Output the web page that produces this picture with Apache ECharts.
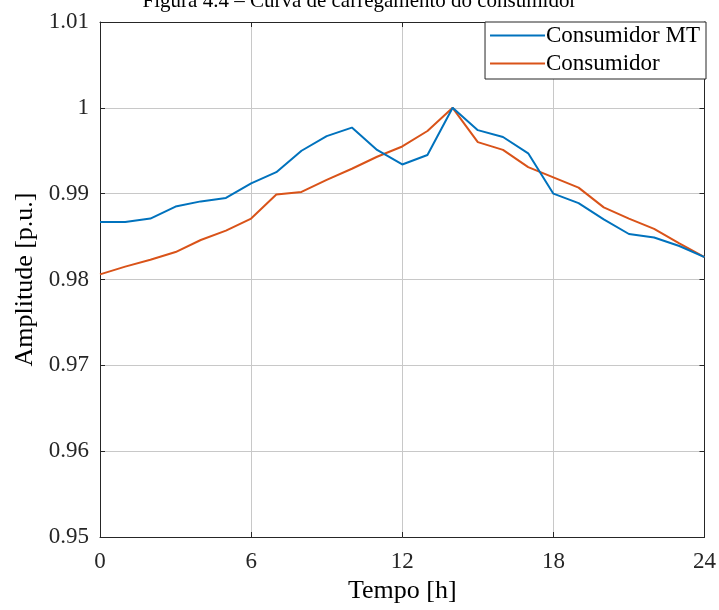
<!DOCTYPE html>
<html>
<head>
<meta charset="utf-8">
<script src="https://cdn.jsdelivr.net/npm/echarts@6/dist/echarts.min.js"></script>
<style>
  html, body { margin: 0; padding: 0; background: #fff; }
  #chart { width: 719px; height: 610px; }
</style>
</head>
<body>
<div id="chart"></div>
<script>
// Hourly load curve, per-unit amplitude
const hours = [0, 1, 2, 3, 4, 5, 6, 7, 8, 9, 10, 11, 12, 13, 14, 15, 16, 17, 18, 19, 20, 21, 22, 23, 24];
const consumidorMT = [0.9867, 0.9867, 0.9871, 0.9885, 0.9891, 0.9895, 0.9912, 0.9925, 0.9950, 0.9967, 0.9977, 0.9951, 0.9934, 0.9945, 1.0000, 0.9974, 0.9966, 0.9947, 0.9900, 0.9889, 0.9870, 0.9853, 0.9849, 0.9839, 0.9826];
const consumidor = [0.9806, 0.9815, 0.9823, 0.9832, 0.9846, 0.9857, 0.9871, 0.9899, 0.9902, 0.9916, 0.9929, 0.9943, 0.9955, 0.9973, 1.0000, 0.9960, 0.9951, 0.9931, 0.9919, 0.9907, 0.9884, 0.9871, 0.9859, 0.9842, 0.9826];
const xTicks = { min: 0, max: 24, interval: 6 };
const yTicks = { min: 0.95, max: 1.01, interval: 0.01 };

const serif = 'Liberation Serif';
const axisColor = '#262626';
const gridColor = '#c8c8c8';

const pairs = (ys) => hours.map((h, i) => [h, ys[i]]);

const chart = echarts.init(document.getElementById('chart'), null, { renderer: 'canvas' });

// top and right axes only close the box and carry inward ticks
const boxAxis = {
  axisLine: { show: true, onZero: false, lineStyle: { color: axisColor, width: 1 } },
  axisTick: { show: true, inside: true, length: 5, lineStyle: { color: axisColor } },
  axisLabel: { show: false },
  splitLine: { show: false }
};

chart.setOption({
  animation: false,
  backgroundColor: '#fff',
  title: {
    text: 'Figura 4.4 – Curva de carregamento do consumidor',
    left: 'center',
    top: -14,
    textStyle: { fontFamily: serif, fontSize: 21, fontWeight: 'normal', color: '#000' }
  },
  grid: { left: 100, right: 13, top: 22, bottom: 73, containLabel: false },
  legend: {
    data: ['Consumidor MT', 'Consumidor'],
    orient: 'vertical',
    right: 13,
    top: 22,
    padding: [2, 6, 4, 5],
    itemGap: 5,
    itemWidth: 55,
    itemHeight: 2,
    icon: 'rect',
    backgroundColor: '#fff',
    borderColor: axisColor,
    borderWidth: 1,
    borderRadius: 0,
    textStyle: { fontFamily: serif, fontSize: 23, lineHeight: 23, color: '#000', padding: [0, 0, 0, -4] }
  },
  xAxis: [
    {
      type: 'value',
      min: xTicks.min, max: xTicks.max, interval: xTicks.interval,
      name: 'Tempo [h]',
      nameLocation: 'middle',
      nameGap: 41,
      nameTextStyle: { fontFamily: serif, fontSize: 26, color: '#000' },
      axisLine: { show: true, onZero: false, lineStyle: { color: axisColor, width: 1 } },
      axisTick: { show: true, inside: true, length: 5, lineStyle: { color: axisColor } },
      axisLabel: { fontFamily: serif, fontSize: 23, color: axisColor, margin: 13 },
      splitLine: { show: true, lineStyle: { color: gridColor, width: 1 } }
    },
    Object.assign({ type: 'value', position: 'top', min: xTicks.min, max: xTicks.max, interval: xTicks.interval }, boxAxis)
  ],
  yAxis: [
    {
      type: 'value',
      min: yTicks.min, max: yTicks.max, interval: yTicks.interval,
      name: 'Amplitude [p.u.]',
      nameLocation: 'middle',
      nameGap: 57,
      nameTextStyle: { fontFamily: serif, fontSize: 26, color: '#000' },
      axisLine: { show: true, onZero: false, lineStyle: { color: axisColor, width: 1 } },
      axisTick: { show: true, inside: true, length: 5, lineStyle: { color: axisColor } },
      axisLabel: {
        fontFamily: serif, fontSize: 23, color: axisColor, margin: 11,
        formatter: (v) => String(parseFloat(v.toFixed(2)))
      },
      splitLine: { show: true, lineStyle: { color: gridColor, width: 1 } }
    },
    Object.assign({ type: 'value', position: 'right', min: yTicks.min, max: yTicks.max, interval: yTicks.interval }, boxAxis)
  ],
  series: [
    {
      name: 'Consumidor MT',
      type: 'line',
      data: pairs(consumidorMT),
      symbol: 'none',
      lineStyle: { color: '#0072BD', width: 2 },
      itemStyle: { color: '#0072BD' },
      z: 3
    },
    {
      name: 'Consumidor',
      type: 'line',
      data: pairs(consumidor),
      symbol: 'none',
      lineStyle: { color: '#D95319', width: 2 },
      itemStyle: { color: '#D95319' },
      z: 2
    }
  ]
});
</script>
</body>
</html>
